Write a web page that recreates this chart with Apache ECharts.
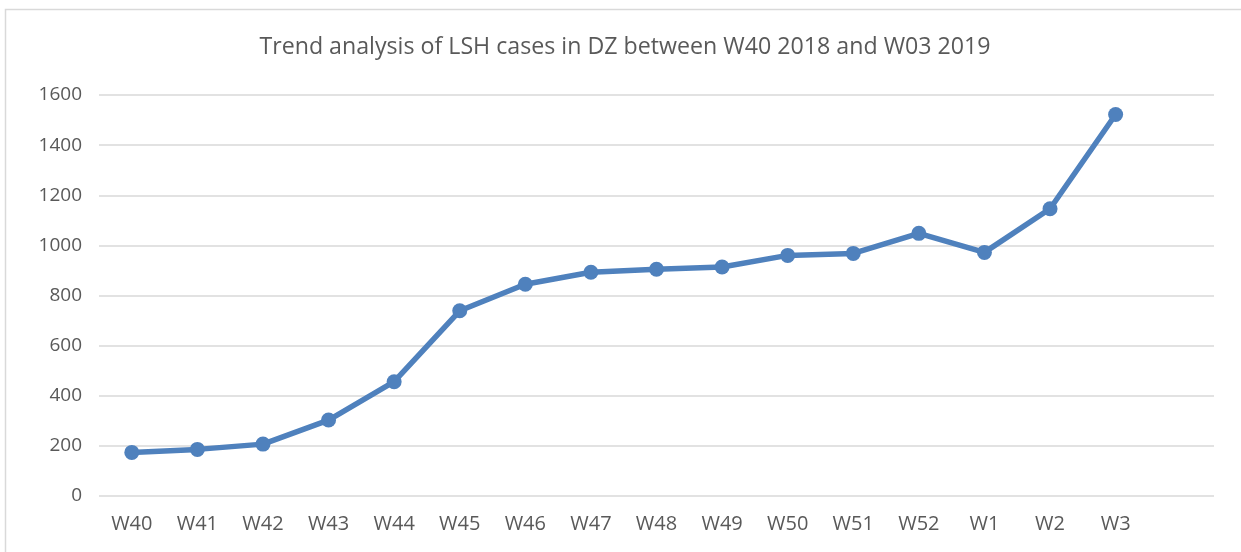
<!DOCTYPE html>
<html>
<head>
<meta charset="utf-8">
<title>Trend analysis of LSH cases</title>
<script src="https://cdn.jsdelivr.net/npm/echarts@6/dist/echarts.min.js"></script>
<style>
  html, body { margin: 0; padding: 0; background: #fff; }
  #chart { width: 1241px; height: 552px; }
</style>
</head>
<body>
<div id="chart"></div>
<script>
// week labels, last one left blank (the plot keeps an empty slot after W3)
const weeks = ['W40', 'W41', 'W42', 'W43', 'W44', 'W45', 'W46', 'W47', 'W48',
               'W49', 'W50', 'W51', 'W52', 'W1', 'W2', 'W3', ''];
// cases per week
const cases = [174, 186, 207, 303, 456, 739, 845, 893, 905,
               914, 960, 968, 1048, 972, 1146, 1522];

const yTicks = { min: 0, max: 1600, step: 200 };

const lineColor = '#4f81bd';
const textColor = '#595959';
const gridColor = '#d9d9d9';
const fontName = '"Open Sans", Lato, sans-serif';

document.addEventListener('DOMContentLoaded', () => {
    const chartDom = document.getElementById('chart');
    const myChart = echarts.init(chartDom);

    const option = {
        backgroundColor: '#fff',
        animation: false,
        title: {
            text: 'Trend analysis of LSH cases in DZ between W40 2018 and W03 2019',
            left: 620,
            textAlign: 'center',
            top: 31,
            textStyle: {
                color: textColor,
                fontFamily: fontName,
                fontSize: 23.2,
                fontWeight: 'normal'
            }
        },
        // light frame of the chart area, clipped on the right and bottom
        graphic: [{
            type: 'rect',
            shape: { x: 5.5, y: 9.5, width: 1260, height: 580 },
            style: { fill: 'none', stroke: gridColor, lineWidth: 1.5 },
            silent: true
        }],
        grid: {
            left: 99,
            right: 27,
            top: 95,
            bottom: 56,
            containLabel: false
        },
        xAxis: {
            type: 'category',
            data: weeks,
            boundaryGap: true,
            axisLine: { show: false },
            axisTick: { show: false },
            axisLabel: {
                color: textColor,
                fontFamily: fontName,
                fontSize: 20,
                margin: 18,
                interval: 0
            }
        },
        yAxis: {
            type: 'value',
            min: yTicks.min,
            max: yTicks.max,
            interval: yTicks.step,
            axisLine: { show: false },
            axisTick: { show: false },
            axisLabel: {
                color: textColor,
                fontFamily: fontName,
                fontSize: 19,
                margin: 17,
                formatter: v => String(v)
            },
            splitLine: {
                lineStyle: { color: gridColor, width: 1.5 }
            }
        },
        series: [{
            type: 'line',
            data: cases,
            symbol: 'circle',
            symbolSize: 15,
            lineStyle: { color: lineColor, width: 5.5 },
            itemStyle: { color: lineColor },
            z: 3
        }]
    };

    myChart.setOption(option, true);
});
</script>
</body>
</html>
